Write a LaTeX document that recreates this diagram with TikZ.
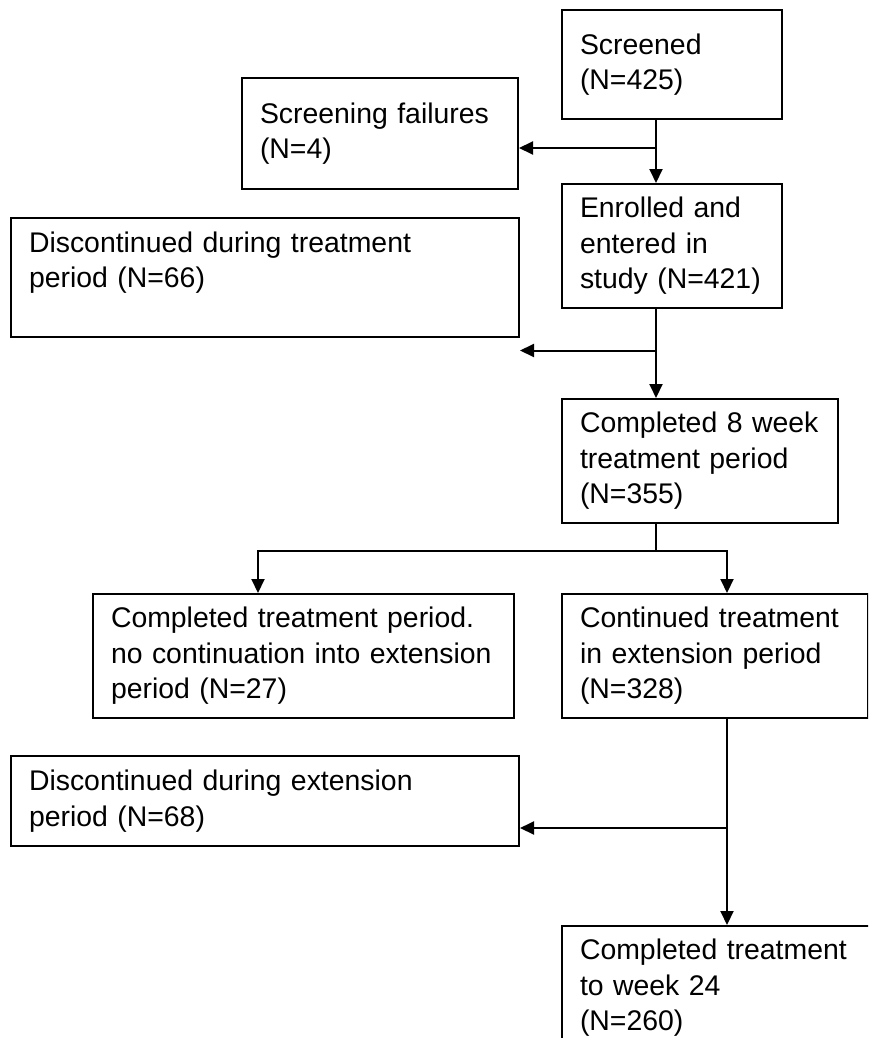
\documentclass[tikz,border=0pt]{standalone}
\usepackage{fontspec}
\setmainfont{Liberation Sans}
\usetikzlibrary{arrows.meta,positioning}

\begin{document}
\begin{tikzpicture}[
  font=\fontsize{14.2}{17.7}\selectfont,
  line width=1pt,
  flow/.style={draw, align=left, inner xsep=9pt, inner ysep=0pt},
  >={Triangle[length=7pt, width=6.5pt]}]
  \useasboundingbox (0,0) rectangle (434pt,-519pt);
  \clip (0,0) rectangle (434pt,-519pt);
  \node[flow, text width=92pt, minimum height=54.5pt, anchor=north west] (scr) at (280.5pt,-4.5pt) {Screened\\(N=425)};
  \node[flow, text width=92pt, minimum height=62pt, below=31.5pt of scr.south west, anchor=north west] (enr) {Enrolled and\\entered in\\study (N=421)};
  \node[flow, text width=120pt, minimum height=62pt, below=44.5pt of enr.south west, anchor=north west] (wk8) {Completed 8 week\\treatment period\\(N=355)};
  \node[flow, text width=135pt, minimum height=62pt, below=34.5pt of wk8.south west, anchor=north west] (cont) {Continued treatment\\in extension period\\(N=328)};
  \node[flow, text width=152pt, minimum height=62pt, below=103pt of cont.south west, anchor=north west] (wk24) {Completed treatment\\to week 24\\(N=260)};
  \node[flow, text width=120pt, minimum height=55.5pt, left=21pt of scr.north west, anchor=north east, yshift=-34pt] (fail) {Screening failures\\(N=4)};
  \node[flow, text width=236pt, minimum height=59.5pt, left=20.5pt of enr.north west, anchor=north east, yshift=-17pt] (disc1) {Discontinued during treatment\\period (N=66)\\\mbox{}};
  \node[flow, text width=192.5pt, minimum height=62pt, left=23pt of cont.north west, anchor=north east] (noext) {Completed treatment period.\\no continuation into extension\\period (N=27)};
  \node[flow, text width=236pt, minimum height=45pt, below=18pt of cont.south west, anchor=north east, xshift=-20.5pt] (disc2) {Discontinued during extension\\period (N=68)};
  \coordinate (sp) at ([xshift=47.5pt]scr.south west);
  \path (sp) ++(0,-14pt) coordinate (j1);
  \path (enr.south -| sp) ++(0,-20.75pt) coordinate (j2);
  \path (wk8.south -| sp) ++(0,-13.5pt) coordinate (j3);
  \coordinate (bl) at ([xshift=83pt]noext.north west);
  \coordinate (br) at ([xshift=83pt]cont.north west);
  \path (cont.south -| br) ++(0,-54.5pt) coordinate (j4);
  \draw[->] (sp) -- (enr.north -| sp);
  \draw[->] (j1) -- (j1 -| fail.east);
  \draw[->] (enr.south -| sp) -- (wk8.north -| sp);
  \draw[->] (j2) -- (j2 -| disc1.east);
  \draw (wk8.south -| sp) -- (j3);
  \draw[->] (j3) -| (bl);
  \draw[->] (j3) -| (br);
  \draw[->] (cont.south -| br) -- (wk24.north -| br);
  \draw[->] (j4) -- (j4 -| disc2.east);
\end{tikzpicture}
\end{document}
